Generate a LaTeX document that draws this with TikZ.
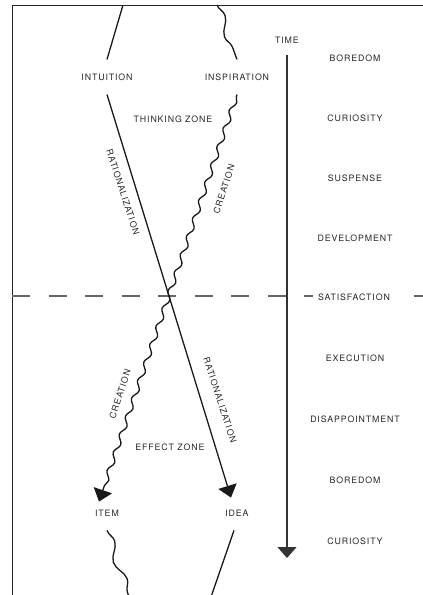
\documentclass[tikz,border=0pt]{standalone}
\usepackage{fontspec}
\newfontfamily\lblfont{TeX Gyre Heros}[LetterSpace=10]
\usetikzlibrary{arrows.meta, decorations.pathmorphing}

\begin{document}
\begin{tikzpicture}[
    x=1pt, y=-1pt,
    lbl/.style={
        font=\lblfont\fontsize{8.8}{10}\selectfont,
        text=black!85, inner sep=1.5pt
    },
    stage/.style={lbl, inner ysep=14pt},
    mood/.style={lbl, fill=white, inner xsep=3pt},
    arr/.style={
        -{Triangle[length=12pt, width=19pt]},
        line width=1.3pt, black!90
    },
    plain/.style={line width=1.3pt, black!90},
    wavy/.style={
        decorate, decoration={snake, segment length=19pt,
        amplitude=2.4pt, pre length=2pt, post length=12pt}
    },
    slowwavy/.style={
        decorate, decoration={snake, segment length=40pt, amplitude=4pt}
    },
    tarr/.style={
        -{Triangle[length=11pt, width=19pt]},
        line width=1.2pt, black!80
    }
]

\useasboundingbox (0,0) rectangle (423,595);

% frame
\draw[line width=0.9pt, black!85] (12,595) -- (12,5) -- (423,5);

% divide
\draw[line width=1.1pt, black!60, dash pattern=on 18pt off 18.5pt] (12,296) -- (423,296);

\node[stage] at (107,77)  (intu) {INTUITION};
\node[stage] at (237,77)  (insp) {INSPIRATION};
\node[stage] at (107,513) (item) {ITEM};
\node[stage] at (237,513) (idea) {IDEA};

\coordinate (top1) at (123,5);
\coordinate (top2) at (217,5);
\coordinate (bot1) at (129,597);
\coordinate (bot2) at (211,597);

\draw[plain] (top1) -- (intu.north);
\draw[plain, slowwavy] (top2) -- (insp.north);

\draw[arr] (intu.south) -- ([xshift=-6pt, yshift=-2pt]idea.north);
\draw[arr, wavy] (insp.south) -- ([xshift=-8pt, yshift=-6pt]item.north);

\draw[plain, slowwavy] (item.south) -- (bot1);
\draw[plain] ([xshift=-3pt]idea.south) -- (bot2);

\node[lbl] at (173,119) (think) {THINKING ZONE};
\node[lbl] at (170,447) (effect) {EFFECT ZONE};

\node[lbl, rotate=-72] at (123,192) (rat1) {RATIONALIZATION};
\node[lbl, rotate=-72] at (220,400) (rat2) {RATIONALIZATION};
\node[lbl, rotate=72]  at (224,189) (cre1) {CREATION};
\node[lbl, rotate=72]  at (120,394) (cre2) {CREATION};

% time axis
\node[lbl] at (287,40) (time) {TIME};
\coordinate (tstart) at (287,55);
\coordinate (tend)   at (287,558);
\draw[tarr] (tstart) -- (tend);

\node[mood] at (355,58)  (bor1) {BOREDOM};
\node[mood] at (355,118) (cur1) {CURIOSITY};
\node[mood] at (355,178) (susp) {SUSPENSE};
\node[mood] at (355,238) (dev)  {DEVELOPMENT};
\node[mood, inner xsep=5pt] at (354,297) (sat) {SATISFACTION};
\node[mood] at (355,358) (exe)  {EXECUTION};
\node[mood] at (355,419) (dis)  {DISAPPOINTMENT};
\node[mood] at (355,480) (bor2) {BOREDOM};
\node[mood] at (355,541) (cur2) {CURIOSITY};

\end{tikzpicture}
\end{document}
